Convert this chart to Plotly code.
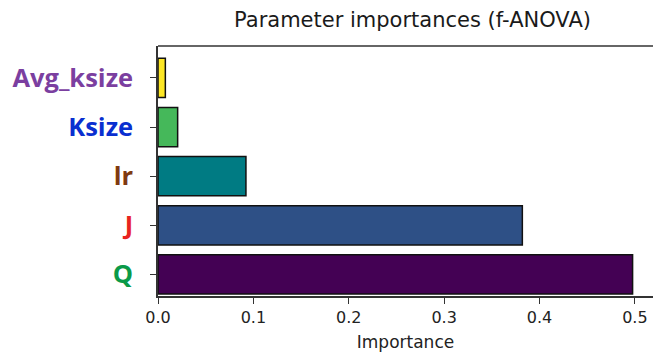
import plotly.graph_objects as go

params = ["Q", "J", "lr", "Ksize", "Avg_ksize"]
importances = [0.4976, 0.382, 0.0922, 0.0206, 0.0077]
bar_colors = ["#440154", "#2e5086", "#007b83", "#45b85a", "#fde725"]
label_colors = ["#0a9a48", "#e8231f", "#7f3a10", "#0a2fd0", "#7b3fa0"]
x_ticks = [0.0, 0.1, 0.2, 0.3, 0.4, 0.5]
x_tick_text = ["0.0", "0.1", "0.2", "0.3", "0.4", "0.5"]

ypos = list(range(len(params)))

fig = go.Figure()
fig.add_trace(go.Bar(
    x=importances, y=ypos, orientation="h", width=0.8,
    marker=dict(color=bar_colors, line=dict(color="#111111", width=1.5)),
    showlegend=False,
))

fig.update_layout(
    width=653, height=358,
    margin=dict(l=158, r=0, t=46, b=62),
    paper_bgcolor="white", plot_bgcolor="white",
    title=dict(text="Parameter importances (f-ANOVA)", x=412.5/653, xanchor="center",
               y=1 - 20/358, yanchor="middle",
               font=dict(family="DejaVu Sans", size=21, color="#1a1a1a")),
    font=dict(family="DejaVu Sans", color="#222222"),
    xaxis=dict(range=[0, 0.519], tickvals=x_ticks, ticktext=x_tick_text,
               showline=True, linecolor="#333333", linewidth=1.5,
               ticks="outside", ticklen=6, tickcolor="#333333", tickwidth=1.2,
               showgrid=False, zeroline=False,
               tickfont=dict(family="DejaVu Sans", size=16, color="#222222"),
               title=dict(text="Importance", standoff=10,
                          font=dict(family="DejaVu Sans", size=17, color="#222222"))),
    yaxis=dict(range=[-0.44, 4.65], tickvals=ypos,
               ticktext=[f"<b><span style='color:{c}'>{p}</span></b>" for p, c in zip(params, label_colors)],
               showline=True, linecolor="#333333", linewidth=1.5,
               ticks="outside", ticklen=6, tickcolor="#333333", tickwidth=1.2,
               showgrid=False, zeroline=False, ticklabelstandoff=12,
               tickfont=dict(family="Open Sans", size=25.5)),
    shapes=[dict(type="line", xref="paper", yref="paper", x0=0, x1=1, y0=1, y1=1,
                 line=dict(color="#333333", width=1.5))],
)

fig.write_html("out.html")
